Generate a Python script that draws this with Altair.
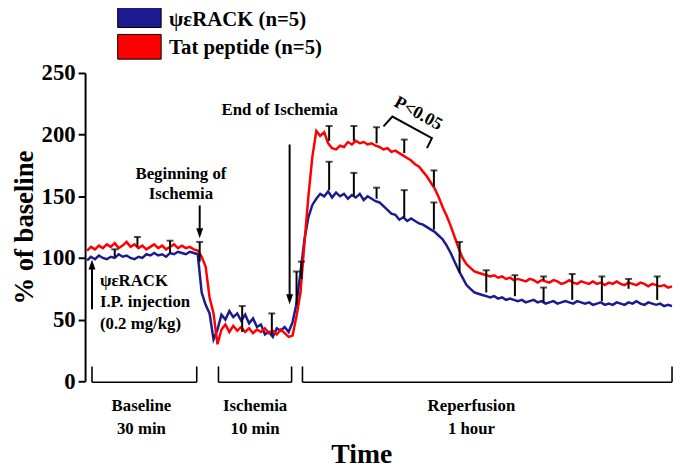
import altair as alt
import pandas as pd

FONT = "Liberation Serif"
BLUE = "#1b1b8f"
RED = "#ff0000"

# ---------------- data ----------------
series_names = ["ψεRACK (n=5)", "Tat peptide (n=5)"]
series_colors = [BLUE, RED]

# sample index (time axis, arbitrary recording units)
time_idx = list(range(2, 595, 4))

blue_vals = [
    98, 101, 99, 102, 100, 99, 101, 100, 103, 101,
    102, 100, 99, 101, 100, 103, 102, 104, 102, 103,
    101, 104, 103, 105, 104, 103, 105, 104, 103, 72,
    62, 55, 34, 42, 54, 50, 57, 52, 55, 49,
    54, 47, 51, 44, 46, 38, 40, 36, 43, 41,
    44, 40, 48, 63, 88, 115, 133, 143, 148, 152,
    150, 154, 149, 153, 150, 152, 148, 151, 149, 152,
    147, 150, 148, 146, 145, 142, 139, 136, 135, 131,
    133, 130, 132, 130, 128, 127, 125, 123, 121, 118,
    115, 110, 104, 97, 90, 84, 78, 75, 72, 71,
    70, 69, 68, 69, 67, 68, 66, 67, 66, 65,
    66, 64, 65, 66, 64, 65, 63, 64, 65, 63,
    64, 65, 64, 63, 65, 64, 63, 64, 62, 63,
    64, 62, 63, 62, 64, 63, 62, 64, 63, 65,
    63, 62, 64, 63, 62, 63, 61, 62, 61,
]
red_vals = [
    106, 109, 107, 110, 108, 111, 109, 112, 108, 110,
    113, 109, 111, 108, 110, 107, 109, 111, 108, 110,
    107, 109, 111, 108, 110, 108, 109, 107, 106, 101,
    93, 68, 55, 30, 42, 46, 40, 45, 41, 44,
    40, 43, 39, 42, 40, 43, 39, 41, 38, 42,
    39, 36, 37, 53, 72, 112, 150, 182, 203, 199,
    202, 193, 189, 188, 191, 190, 194, 192, 195, 193,
    194, 192, 193, 191, 190, 188, 189, 186, 187, 185,
    183, 181, 179, 176, 174, 170, 166, 161, 156, 149,
    141, 134, 126, 117, 108, 100, 95, 92, 89, 88,
    87, 86, 85, 86, 84, 85, 83, 84, 82, 83,
    82, 81, 83, 82, 80, 82, 81, 80, 82, 81,
    79, 80, 82, 80, 79, 81, 80, 79, 81, 79,
    80, 78, 80, 79, 81, 79, 78, 80, 79, 78,
    80, 79, 77, 79, 78, 77, 78, 76, 77,
]

# SEM error bars (upper only)
err_t = [30, 53, 86, 116, 159, 189, 214, 219, 247, 247, 272, 272, 295, 295,
         323, 323, 353, 353, 379, 406, 435, 464, 464, 493, 523, 550, 579]
err_low = [101, 109, 104, 97, 40, 38, 62, 83, 195, 155, 195, 150, 193, 148,
           185, 133, 158, 123, 88, 72, 69, 82, 64, 66, 65, 75, 66]
err_high = [107, 117, 114, 113, 61, 55, 89, 97, 207, 178, 207, 169, 206, 157,
            196, 155, 171, 145, 113, 90, 86, 85, 76, 87, 85, 83, 85]

# experimental periods
period_names = ["Baseline", "Ischemia", "Reperfusion"]
period_durations = ["30 min", "10 min", "1 hour"]
period_start = [7, 135, 220]
period_end = [113, 209, 594]
period_label_t = [57, 172, 391]

# ---------------- frames ----------------
df = pd.DataFrame({
    "t": time_idx * 2,
    "value": blue_vals + red_vals,
    "series": [series_names[0]] * len(blue_vals) + [series_names[1]] * len(red_vals),
})
err_df = pd.DataFrame({"t": err_t, "low": err_low, "high": err_high})

xs = alt.Scale(domain=[0, 596], nice=False, zero=False)
ys = alt.Scale(domain=[0, 250], nice=False)
X = lambda f="t": alt.X(f, type="quantitative", scale=xs, axis=None)

yaxis = alt.Axis(
    values=[0, 50, 100, 150, 200, 250], title="% of baseline", grid=False,
    titleFont=FONT, titleFontSize=27, titleFontWeight="bold", titleColor="black",
    titlePadding=3,
    labelFont=FONT, labelFontSize=23, labelFontWeight="bold", labelColor="black",
    labelPadding=3, tickSize=7, tickWidth=2, tickColor="black",
    domainColor="black", domainWidth=2,
)

lines = alt.Chart(df).mark_line(strokeWidth=2.5, interpolate="linear").encode(
    x=X(),
    y=alt.Y("value:Q", scale=ys, axis=yaxis),
    color=alt.Color("series:N", scale=alt.Scale(domain=series_names, range=series_colors), legend=None),
    detail="series:N",
    order=alt.Order("t:Q"),
)

err_rules = alt.Chart(err_df).mark_rule(color="black", strokeWidth=2).encode(
    x=X(), y=alt.Y("low:Q", scale=ys), y2="high:Q")
err_caps = alt.Chart(err_df).mark_tick(color="black", orient="horizontal", size=7, thickness=2).encode(
    x=X(), y=alt.Y("high:Q", scale=ys))

# ---------------- annotations ----------------
def txt(rows, size=17, align="center", angle=0, baseline="middle"):
    d = pd.DataFrame(rows, columns=["t", "v", "label"])
    return alt.Chart(d).mark_text(font=FONT, fontSize=size, fontWeight="bold", color="black",
                                  align=align, baseline=baseline, angle=angle).encode(
        x=X(), y=alt.Y("v:Q", scale=ys), text="label:N")

ann_text = txt([(97, 168, "Beginning of"), (97, 152, "Ischemia"),
                (197, 220, "End of Ischemia")])
inj_text = txt([(15, 81, "ψεRACK"), (15, 64, "I.P. injection"), (15, 46.5, "(0.2 mg/kg)")], align="left")
p_text = txt([(337, 217, "P<0.05")], size=18, angle=29)

arrows = pd.DataFrame({"t": [116, 207, 7], "a": [142.6, 192, 58.5], "b": [120, 68, 94],
                       "tip": [116, 62.5, 98.6], "dir": ["down", "down", "up"]})
arrow_shafts = alt.Chart(arrows).mark_rule(color="black", strokeWidth=2).encode(
    x=X(), y=alt.Y("a:Q", scale=ys), y2="b:Q")
head_down = alt.Chart(arrows[arrows.dir == "down"]).mark_point(
    shape="M0,0L-1.4,-4L1.4,-4Z", size=25, filled=True, color="black", opacity=1, strokeWidth=0).encode(
    x=X(), y=alt.Y("tip:Q", scale=ys))
head_up = alt.Chart(arrows[arrows.dir == "up"]).mark_point(
    shape="M0,0L-1.4,4L1.4,4Z", size=25, filled=True, color="black", opacity=1, strokeWidth=0).encode(
    x=X(), y=alt.Y("tip:Q", scale=ys))

bracket = pd.DataFrame({"t": [302, 311, 351, 346], "v": [206.7, 214.7, 197.1, 189.1], "o": [0, 1, 2, 3]})
p_bracket = alt.Chart(bracket).mark_line(color="black", strokeWidth=2).encode(
    x=X(), y=alt.Y("v:Q", scale=ys), order="o:Q")

# period brackets under the traces
pdf = pd.DataFrame({"s": period_start, "e": period_end, "lo": [-0.8] * 3, "hi": [12] * 3})
br_h = alt.Chart(pdf).mark_rule(color="black", strokeWidth=1.6).encode(
    x=alt.X("s:Q", scale=xs, axis=None), x2="e:Q", y=alt.Y("lo:Q", scale=ys))
br_l = alt.Chart(pdf).mark_rule(color="black", strokeWidth=1.6).encode(
    x=alt.X("s:Q", scale=xs, axis=None), y=alt.Y("lo:Q", scale=ys), y2="hi:Q")
br_r = alt.Chart(pdf).mark_rule(color="black", strokeWidth=1.6).encode(
    x=alt.X("e:Q", scale=xs, axis=None), y=alt.Y("lo:Q", scale=ys), y2="hi:Q")
period_text = txt([(t, -20, n) for t, n in zip(period_label_t, period_names)] +
                  [(t, -38.5, d) for t, d in zip(period_label_t, period_durations)])
time_title = txt([(280, -66.5, "Time")], size=28, baseline="alphabetic")

# legend (manual, filled boxes with outline)
legend_layers = []
for i, (name, col) in enumerate(zip(series_names, series_colors)):
    top = -71 + i * 32
    ld = pd.DataFrame({"label": [name]})
    legend_layers.append(alt.Chart(ld).mark_rect(fill=col, stroke="black", strokeWidth=1).encode(
        x=alt.value(33), x2=alt.value(77), y=alt.value(top), y2=alt.value(top + 25)))
    legend_layers.append(alt.Chart(ld).mark_text(
        font=FONT, fontSize=21, fontWeight="bold", color="black", align="left", baseline="middle").encode(
        x=alt.value(85), y=alt.value(max(top + 14, -54)), text="label:N"))

chart = alt.layer(
    lines, err_rules, err_caps, ann_text, inj_text, p_text, arrow_shafts, head_down, head_up,
    p_bracket, br_h, br_l, br_r, period_text, time_title, *legend_layers,
).properties(
    width=596, height=312,
    padding={"left": 78, "top": 63, "right": 0, "bottom": 85},
    autosize=alt.AutoSizeParams(type="none"),
).configure_view(stroke=None).resolve_scale(color="independent")

chart.save("out.html", embed_options={"renderer": "svg", "actions": False})
